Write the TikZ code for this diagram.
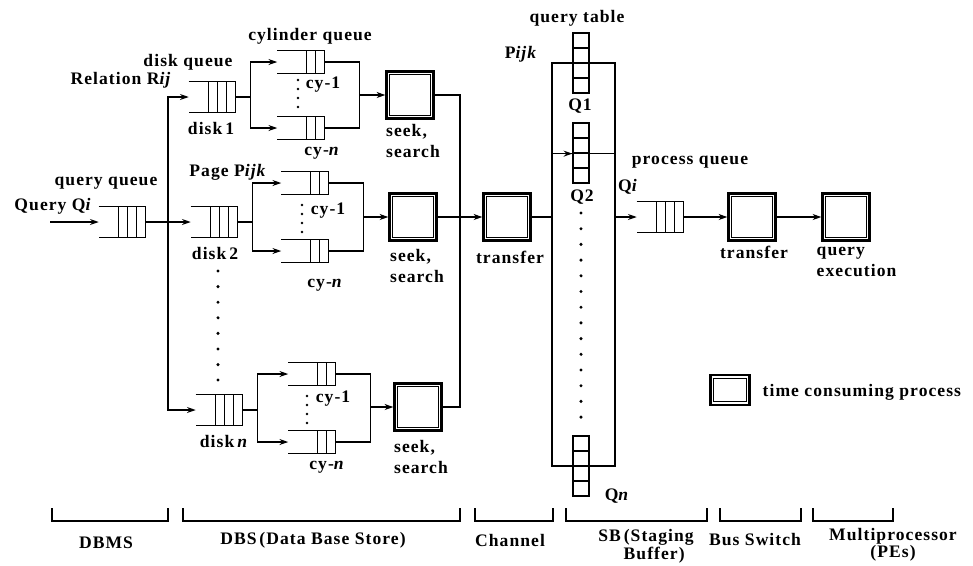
\documentclass[tikz,border=0pt]{standalone}
\usepackage{fontspec}
\setmainfont{Liberation Serif}[LetterSpace=6.0]
\usetikzlibrary{arrows.meta, positioning}
\tikzset{
  line/.style  = {line width=0.9pt},
  flow/.style  = {-{Stealth[length=2.2mm, width=1.5mm]}, line width=0.9pt},
  qline/.style = {line width=0.9pt},
  dskq/.style  = {rectangle, inner sep=0pt, minimum width=11.5mm, minimum height=7.75mm},
  cylq/.style  = {rectangle, inner sep=0pt, minimum width=11.75mm, minimum height=5.5mm},
  proc/.style  = {rectangle, draw, line width=1.6pt, minimum width=11.75mm, minimum height=11.75mm, inner sep=0pt,
                  path picture={\draw[line width=0.5pt] ([shift={(0.8mm,-0.8mm)}]path picture bounding box.north west)
                  rectangle ([shift={(-0.8mm,0.8mm)}]path picture bounding box.south east);}},
  cell/.style  = {rectangle, draw, line width=0.9pt, fill=white, minimum width=4mm, minimum height=3.75mm, inner sep=0pt},
  sbox/.style  = {rectangle, draw, line width=0.9pt, minimum width=15.75mm, minimum height=100.75mm, inner sep=0pt},
  lbl/.style   = {font=\fontsize{12.5}{14.5}\selectfont\bfseries, inner sep=1pt},
  lbl2/.style  = {lbl, align=center, anchor=north, font=\fontsize{12.5}{11.5}\selectfont\bfseries},
}
% open-ended queue: top, bottom, closed end and cells
\newcommand{\qdraw}[2]{%
  \draw[qline] (#1.north west) -- (#1.north east) -- (#1.south east) -- (#1.south west);
  \foreach \k in {1,...,#2}{\draw[qline] ([xshift=-\k*2.25mm]#1.north east) -- ([xshift=-\k*2.25mm]#1.south east);}
}

\begin{document}
\begin{tikzpicture}[x=0.25mm, y=-0.25mm]
\useasboundingbox (0,0) rectangle (973,565);

% queues
\node[dskq] (qq) at (122,222) {};
\node[dskq] (dk1) at (212,97) {};
\node[dskq] (dk2) at (214,222) {};
\node[dskq] (dkn) at (219,410) {};
\node[cylq] (c11) at (301,62) {};
\node[cylq] (c1n) at (301,128) {};
\node[cylq] (c21) at (305,183) {};
\node[cylq] (c2n) at (305,251) {};
\node[cylq] (c31) at (312,374) {};
\node[cylq] (c3n) at (312,442) {};
\node[dskq] (pq) at (660,217) {};
\foreach \q in {qq,dk1,dk2,dkn,pq}{\qdraw{\q}{3}}
\foreach \q in {c11,c1n,c21,c2n,c31,c3n}{\qdraw{\q}{2}}

% time consuming processes
\node[proc] (sk1) at (410,95) {};
\node[proc] (sk2) at (413,217) {};
\node[proc] (sk3) at (418,407) {};
\node[proc] (tr) at (507,217) {};
\node[proc] (bus) at (752,217) {};
\node[proc] (qx) at (846,217) {};
\node[proc, minimum width=9.75mm, minimum height=7.5mm] (key) at (730,390) {};

% staging buffer and query table
\node[sbox] (sb) at (583.5,264.5) {};
\foreach \k in {0,...,3}{
  \node[cell] (q1-\k) at (581,40.5+15*\k) {};
  \node[cell] (q2-\k) at (581,130.5+15*\k) {};
  \node[cell] (qn-\k) at (581,443.5+15*\k) {};
}
\foreach \k in {0,...,13}{\fill (581,213+15.7*\k) circle (1.2pt);}

% connectors
\coordinate (qin) at (50,222);
\coordinate (qs) at (168,222);
\coordinate (ch) at (460,217);
\draw[flow] (qin) -- (qq);
\draw[flow] (qq) -- (dk2);
\draw[flow] (qs) |- (dk1);
\draw[flow] (qs) |- (dkn);
\foreach \d/\a/\b/\s in {dk1/c11/c1n/sk1, dk2/c21/c2n/sk2, dkn/c31/c3n/sk3}{
  \draw[flow] (\d.east) -- ++(15,0) |- (\a.west);
  \draw[flow] (\d.east) -- ++(15,0) |- (\b.west);
  \draw[line] (\a.east) -- ++(35,0) |- (\b.east);
  \draw[flow] (\s.west -| \a.east) ++(35,0) -- (\s.west);
}
\draw[line] (sk1.east) -| (ch);
\draw[line] (sk3.east) -| (ch);
\draw[flow] (sk2) -- (tr);
\draw[line] (tr.east) -- (tr.east -| sb.west);
\draw[line] (sb.west |- q2-1.south) -- (sb.east |- q2-1.south);
\draw[flow] (sb.west |- q2-1.south) -- (q2-1.south west);
\foreach \k in {1,2}{\node[cell] at (q2-\k) {};}
\draw[flow] (pq.west -| sb.east) -- (pq.west);
\draw[flow] (pq) -- (bus);
\draw[flow] (bus) -- (qx);

% dots
\foreach \y in {271,286.6,302.2,317.8,333.4,349,364.6,380}{\fill (218,\y) circle (1.2pt);}
\foreach \y in {80,89,98,107}{\fill (298,\y) circle (1pt);}
\foreach \y in {205,214,223,232}{\fill (302,\y) circle (1pt);}
\foreach \y in {396,405,414,423}{\fill (307,\y) circle (1pt);}

% labels
\node[lbl] (lqin) at (53,206) {Query Q\textit{i}};
\node[lbl] (lqq) at (106,183) {query queue};
\node[lbl] (ldq) at (188,62) {disk queue};
\node[lbl] (lrel) at (121,80) {Relation R\textit{ij}};
\node[lbl] (ld1) at (211,128) {disk\,1};
\node[lbl] (ld2) at (215,253) {disk\,2};
\node[lbl] (ldn) at (224,441) {disk\,\textit{n}};
\node[lbl] (lcq) at (310,36) {cylinder queue};
\node[lbl] (lpg) at (228,172) {Page P\textit{ijk}};
\node[lbl] (l11) at (323,85) {cy-1};
\node[lbl] (l1n) at (322,153) {cy-\textit{n}};
\node[lbl] (l21) at (328,211) {cy-1};
\node[lbl] (l2n) at (325,285) {cy-\textit{n}};
\node[lbl] (l31) at (333,399) {cy-1};
\node[lbl] (l3n) at (327,467) {cy-\textit{n}};
\node[lbl, align=left] (ls1) at (413,141) {seek,\\search};
\node[lbl, align=left] (ls2) at (417,266) {seek,\\search};
\node[lbl, align=left] (ls3) at (421,457) {seek,\\search};
\node[lbl] (ltr) at (510,257) {transfer};
\node[lbl] (lqt) at (577,18) {query table};
\node[lbl] (lpijk) at (521,54) {P\textit{ijk}};
\node[lbl] (lq1) at (580,106) {Q1};
\node[lbl] (lq2) at (582,197) {Q2};
\node[lbl] (lqn) at (617,496) {Q\textit{n}};
\node[lbl] (lqi) at (628,187) {Q\textit{i}};
\node[lbl] (lpq) at (690,162) {process queue};
\node[lbl] (lbus) at (754,252) {transfer};
\node[lbl, align=left, anchor=west] (lqx) at (815,262) {query\\execution};
\node[lbl, anchor=west] (lkey) at (761,392) {time consuming process};

% parts of the system
\foreach \a/\b in {52/168, 183/460, 475/553, 566/707, 720/801, 813/893}{\draw[line] (\a,508) |- (\b,521) -- (\b,508);}
\node[lbl] (pdbms) at (106,543) {DBMS};
\node[lbl] (pdbs) at (313,540) {DBS\,(Data Base Store)};
\node[lbl] (pch) at (510,540) {Channel};
\node[lbl2] (psb) at (646,528) {SB\,(Staging\\\ \ \ Buffer)};
\node[lbl] (pbus) at (755,539) {Bus Switch};
\node[lbl2] (pmp) at (893,527) {Multiprocessor\\(PEs)};
\end{tikzpicture}
\end{document}
